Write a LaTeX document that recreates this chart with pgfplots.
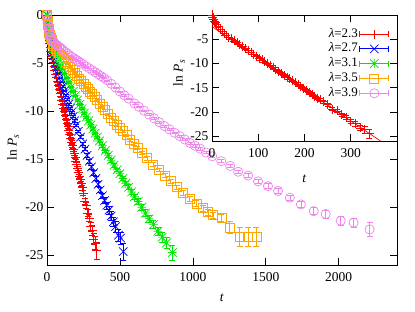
\documentclass[border=0pt]{standalone}
\usepackage{pgfplots}
\pgfplotsset{compat=1.18}
\usepackage{fontspec}
\setmainfont{Liberation Serif}
\definecolor{gpred}{RGB}{255,0,0}
\definecolor{gpblue}{RGB}{0,0,255}
\definecolor{gpgreen}{RGB}{0,230,0}
\definecolor{gporange}{RGB}{255,165,0}
\definecolor{gpviolet}{RGB}{238,130,238}
\pgfdeclareplotmark{gpx}{%
  \pgfpathmoveto{\pgfqpoint{-\pgfplotmarksize}{-\pgfplotmarksize}}%
  \pgfpathlineto{\pgfqpoint{\pgfplotmarksize}{\pgfplotmarksize}}%
  \pgfpathmoveto{\pgfqpoint{-\pgfplotmarksize}{\pgfplotmarksize}}%
  \pgfpathlineto{\pgfqpoint{\pgfplotmarksize}{-\pgfplotmarksize}}%
  \pgfusepathqstroke}
\pgfdeclareplotmark{gpstar}{%
  \pgfpathmoveto{\pgfqpoint{-\pgfplotmarksize}{-\pgfplotmarksize}}%
  \pgfpathlineto{\pgfqpoint{\pgfplotmarksize}{\pgfplotmarksize}}%
  \pgfpathmoveto{\pgfqpoint{-\pgfplotmarksize}{\pgfplotmarksize}}%
  \pgfpathlineto{\pgfqpoint{\pgfplotmarksize}{-\pgfplotmarksize}}%
  \pgfpathmoveto{\pgfqpoint{-\pgfplotmarksize}{0pt}}%
  \pgfpathlineto{\pgfqpoint{\pgfplotmarksize}{0pt}}%
  \pgfpathmoveto{\pgfqpoint{0pt}{-\pgfplotmarksize}}%
  \pgfpathlineto{\pgfqpoint{0pt}{\pgfplotmarksize}}%
  \pgfusepathqstroke}
\newcommand{\gpfont}{\fontsize{13.5}{16}\selectfont}
\pgfplotsset{
  gpaxis/.style={scale only axis, clip=false, tick align=inside,
    major tick length=7pt, tick style={black, line width=0.6pt},
    axis line style={black, line width=0.7pt},
    tick label style={font=\gpfont},
    label style={font=\gpfont},
    /pgf/number format/assume math mode=true},
  gperr/.style={error bars/y dir=both, error bars/y explicit,
    error bars/error bar style={line width=0.6pt, solid},
    error bars/error mark options={line width=0.6pt, mark size=3pt, rotate=90}},
  sred/.style={only marks, color=gpred, mark=+, mark size=4.5pt, line width=0.7pt},
  sblue/.style={only marks, color=gpblue, mark=gpx, mark size=4.2pt, line width=0.7pt},
  sgreen/.style={only marks, color=gpgreen, mark=gpstar, mark size=4.3pt, line width=0.7pt},
  sorange/.style={only marks, color=gporange, mark=square, mark size=4.5pt, line width=0.7pt},
  sviolet/.style={only marks, color=gpviolet, mark=o, mark size=4.6pt, line width=0.7pt},
  gpleg/.style={legend image code/.code={%
    \draw[##1, mark=none] (0pt,0pt) -- (29pt,0pt);
    \draw[##1, mark=none] (0pt,-3pt) -- (0pt,3pt);
    \draw[##1, mark=none] (29pt,-3pt) -- (29pt,3pt);
    \draw[##1] plot[only marks] coordinates {(14.5pt,0pt)};}},
}
\pgfplotstableread{
t y e
0 0 0.02
2 -0.5 0.02
4 -0.9 0.02
6 -1.3 0.03
8 -1.6 0.03
10 -1.9 0.03
14 -2.4 0.04
18 -2.9 0.04
22 -3.4 0.05
26 -3.8 0.05
30 -4.2 0.05
36 -4.56 0.05
42 -4.95 0.05
48 -5.34 0.06
54 -5.74 0.06
60 -6.13 0.06
66 -6.52 0.07
72 -6.92 0.07
78 -7.31 0.07
84 -7.70 0.08
90 -8.10 0.08
96 -8.49 0.08
102 -8.88 0.09
108 -9.27 0.09
114 -9.67 0.1
120 -10.06 0.1
126 -10.45 0.1
132 -10.85 0.11
138 -11.24 0.11
144 -11.63 0.12
150 -12.03 0.12
156 -12.42 0.13
162 -12.81 0.13
168 -13.20 0.14
174 -13.60 0.15
180 -13.99 0.15
186 -14.38 0.16
192 -14.78 0.17
198 -15.17 0.18
204 -15.56 0.19
210 -15.96 0.2
216 -16.35 0.21
222 -16.74 0.22
228 -17.13 0.23
234 -17.53 0.25
240 -17.92 0.26
250 -18.5 0.28
260 -19.4 0.3
270 -19.8 0.33
280 -20.6 0.36
290 -21.1 0.4
300 -22.0 0.45
310 -22.4 0.5
320 -23.3 0.55
330 -23.7 0.7
340 -24.5 0.9
}\redtab
\pgfplotstableread{
t y e
0 0 0.02
4 -0.8 0.02
8 -1.4 0.02
12 -1.9 0.03
16 -2.3 0.03
20 -2.6 0.03
28 -3.2 0.04
36 -3.7 0.04
44 -4.2 0.04
52 -4.6 0.05
60 -5.0 0.05
70 -5.5 0.05
80 -6.0 0.06
90 -6.5 0.06
100 -6.95 0.07
110 -7.4 0.07
120 -7.9 0.08
130 -8.35 0.08
140 -8.8 0.09
150 -9.25 0.09
160 -9.7 0.1
170 -10.1 0.1
180 -10.55 0.11
190 -11.0 0.11
200 -11.45 0.12
215 -12.1 0.13
230 -12.7 0.14
245 -13.4 0.15
260 -13.95 0.16
275 -14.6 0.17
290 -15.2 0.19
305 -15.8 0.2
320 -16.4 0.22
335 -17.0 0.24
350 -17.6 0.26
365 -18.2 0.28
380 -18.8 0.3
395 -19.3 0.33
410 -19.8 0.36
425 -20.3 0.4
440 -20.9 0.45
455 -21.5 0.5
470 -22.0 0.55
490 -22.9 0.6
505 -23.2 0.6
523 -24.6 0.9
}\bluetab
\pgfplotstableread{
t y e
0 0 0.02
5 -0.9 0.02
10 -1.5 0.02
15 -2.0 0.03
20 -2.5 0.03
30 -3.1 0.03
40 -3.5 0.04
50 -3.9 0.04
60 -4.3 0.04
75 -4.8 0.05
90 -5.2 0.05
105 -5.6 0.05
120 -6.1 0.06
135 -6.55 0.06
150 -7.0 0.07
165 -7.5 0.07
180 -7.95 0.08
195 -8.4 0.08
210 -8.85 0.09
225 -9.3 0.09
240 -9.75 0.1
255 -10.2 0.1
270 -10.6 0.11
285 -11.0 0.11
300 -11.45 0.12
315 -11.85 0.12
330 -12.3 0.13
345 -12.7 0.13
360 -13.1 0.14
380 -13.6 0.15
400 -14.1 0.16
420 -14.6 0.17
440 -15.1 0.18
460 -15.6 0.19
480 -16.1 0.2
500 -16.5 0.21
520 -17.0 0.22
540 -17.5 0.23
560 -17.9 0.25
580 -18.4 0.27
600 -18.9 0.29
625 -19.4 0.31
650 -20.0 0.33
675 -20.6 0.35
700 -21.2 0.38
730 -21.8 0.4
760 -22.5 0.45
790 -23.1 0.5
820 -23.7 0.55
860 -24.7 0.8
}\greentab
\pgfplotstableread{
t y e
0 0 0.02
3 -0.6 0.02
6 -1.0 0.02
10 -1.4 0.02
15 -1.8 0.03
20 -2.1 0.03
25 -2.4 0.03
30 -2.6 0.03
40 -2.95 0.03
50 -3.25 0.04
60 -3.5 0.04
70 -3.75 0.04
80 -3.95 0.04
90 -4.15 0.05
100 -4.35 0.05
115 -4.6 0.05
130 -4.85 0.05
145 -5.1 0.06
160 -5.4 0.06
175 -5.7 0.06
190 -6.0 0.06
205 -6.3 0.07
220 -6.6 0.07
235 -6.9 0.07
250 -7.2 0.08
265 -7.45 0.08
280 -7.7 0.08
295 -8.0 0.09
310 -8.25 0.09
325 -8.55 0.09
340 -8.8 0.1
360 -9.2 0.1
380 -9.55 0.1
400 -9.9 0.11
420 -10.3 0.11
440 -10.65 0.12
460 -11.0 0.12
480 -11.4 0.13
500 -11.75 0.13
520 -12.1 0.14
545 -12.5 0.14
570 -12.95 0.15
595 -13.35 0.15
620 -13.8 0.16
648 -14.3 0.16
688 -14.9 0.17
728 -15.55 0.18
768 -16.1 0.19
808 -16.7 0.2
848 -17.3 0.21
888 -17.9 0.22
933 -18.5 0.24
979 -19.1 0.26
1025 -19.6 0.28
1071 -20.1 0.3
1105 -20.5 0.3
1139 -20.8 0.3
1196 -21.1 0.35
1253 -22.1 0.6
1322 -23.1 1.0
1379 -23.1 1.0
1436 -23.1 1.0
}\orangetab
\pgfplotstableread{
t y e
0 0 0.02
2 -0.5 0.02
4 -0.8 0.02
7 -1.1 0.02
10 -1.4 0.02
14 -1.7 0.02
18 -1.95 0.02
22 -2.15 0.02
27 -2.35 0.02
32 -2.5 0.02
38 -2.65 0.02
45 -2.8 0.02
52 -2.95 0.02
60 -3.05 0.03
70 -3.15 0.03
82 -3.3 0.03
95 -3.45 0.03
110 -3.65 0.03
125 -3.85 0.03
140 -4.0 0.03
155 -4.2 0.03
170 -4.35 0.03
185 -4.5 0.03
200 -4.65 0.04
215 -4.8 0.04
231 -4.95 0.04
250 -5.15 0.04
270 -5.35 0.04
290 -5.55 0.04
310 -5.75 0.05
330 -5.95 0.05
350 -6.15 0.05
370 -6.35 0.05
390 -6.55 0.05
413 -6.8 0.05
440 -7.15 0.06
470 -7.55 0.06
500 -7.95 0.06
530 -8.35 0.06
560 -8.7 0.07
600 -9.2 0.07
630 -9.55 0.07
665 -9.95 0.08
700 -10.35 0.08
735 -10.75 0.08
770 -11.15 0.09
805 -11.55 0.09
840 -11.9 0.1
875 -12.25 0.1
910 -12.6 0.1
945 -12.95 0.11
980 -13.3 0.11
1015 -13.6 0.12
1050 -13.9 0.12
1090 -14.3 0.13
1133 -14.7 0.15
1195 -15.2 0.15
1256 -15.7 0.18
1311 -16.3 0.2
1379 -16.7 0.2
1447 -17.3 0.22
1515 -17.8 0.25
1584 -18.3 0.25
1665 -19.0 0.3
1741 -19.7 0.3
1829 -20.4 0.35
1911 -20.7 0.4
2014 -21.4 0.5
2102 -21.6 0.5
2212 -22.3 0.7
}\violettab
\begin{document}
\begin{tikzpicture}[font=\gpfont]
\path (0pt,0pt) rectangle (415pt,312pt);
\begin{axis}[gpaxis, at={(47pt,47pt)}, anchor=south west,
  width=350pt, height=250pt,
  xmin=0, xmax=2400, ymin=-26, ymax=0,
  xtick={0,500,1000,1500,2000}, xticklabels={0,500,1000,1500,2000},
  ytick={0,-5,-10,-15,-20,-25}, yticklabels={0,-5,-10,-15,-20,-25},
  xticklabel style={yshift=-4pt},
  xlabel={\textit{t}}, ylabel={ln \textit{P}\textsubscript{\textit{s}}},
  xlabel style={at={(axis description cs:0.5,-0.13)}, anchor=center},
  ylabel style={at={(axis description cs:-0.097,0.47)}, anchor=center},
]
\addplot[sred, gperr] table[x=t, y=y, y error=e] {\redtab};
\addplot[sblue, gperr] table[x=t, y=y, y error=e] {\bluetab};
\addplot[sgreen, gperr] table[x=t, y=y, y error=e] {\greentab};
\addplot[sorange, gperr] table[x=t, y=y, y error=e] {\orangetab};
\addplot[sviolet, gperr] table[x=t, y=y, y error=e] {\violettab};
\end{axis}
\begin{axis}[gpaxis, at={(212pt,171pt)}, anchor=south west,
  width=185pt, height=126pt,
  axis background/.style={fill=white},
  xmin=0, xmax=400, ymin=-26, ymax=0,
  xtick={0,100,200,300}, xticklabels={0,100,200,300},
  ytick={-5,-10,-15,-20,-25}, yticklabels={-5,-10,-15,-20,-25},
  xticklabel style={yshift=-4pt},
  xlabel={\textit{t}}, ylabel={ln \textit{P}\textsubscript{\textit{s}}},
  xlabel style={at={(axis description cs:0.5,-0.30)}, anchor=center},
  ylabel style={at={(axis description cs:-0.178,0.54)}, anchor=center},
  legend cell align=right, legend plot pos=right,
  legend style={at={(axis description cs:0.975,0.925)}, anchor=north east,
    draw=none, fill=none, font=\fontsize{13}{15}\selectfont,
    row sep=0pt, nodes={inner sep=1.5pt, text height=9pt, text depth=2.8pt}},
]
\addplot[forget plot, sred, gperr] table[x=t, y=y, y error=e] {\redtab};
\addplot[forget plot, gpred, line width=0.7pt] coordinates {(0,-2.4) (364.2,-26)};
\addlegendimage{gpleg, gpred, mark=+, mark size=4.5pt, line width=0.7pt}
\addlegendentry{{\itshape λ}=2.3}
\addlegendimage{gpleg, gpblue, mark=gpx, mark size=4.2pt, line width=0.7pt}
\addlegendentry{{\itshape λ}=2.7}
\addlegendimage{gpleg, gpgreen, mark=gpstar, mark size=4.3pt, line width=0.7pt}
\addlegendentry{{\itshape λ}=3.1}
\addlegendimage{gpleg, gporange, mark=square, mark size=4.5pt, line width=0.7pt}
\addlegendentry{{\itshape λ}=3.5}
\addlegendimage{gpleg, gpviolet, mark=o, mark size=4.6pt, line width=0.7pt}
\addlegendentry{{\itshape λ}=3.9}
\end{axis}
\end{tikzpicture}
\end{document}
